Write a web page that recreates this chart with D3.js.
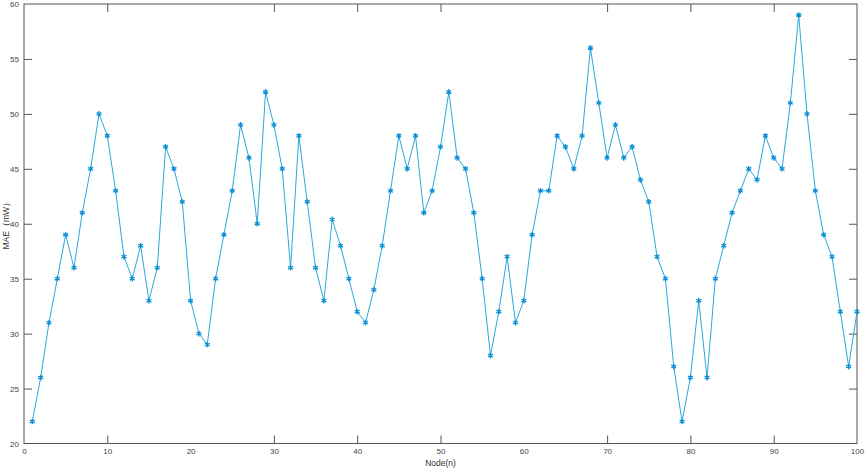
<!DOCTYPE html>
<html>
<head>
<meta charset="utf-8">
<script src="https://cdn.jsdelivr.net/npm/d3@7.9.0/dist/d3.min.js"></script>
<style>
  body { margin: 0; background: #fff; }
  svg { display: block; font-family: "Liberation Sans", Arial, sans-serif; }
</style>
</head>
<body>
<svg id="chart" width="865" height="469"></svg>
<script>
const nodes = d3.range(1, 101);
const mae = [
  22, 26, 31, 35, 39, 36, 41, 45, 50, 48,
  43, 37, 35, 38, 33, 36, 47, 45, 42, 33,
  30, 29, 35, 39, 43, 49, 46, 40, 52, 49,
  45, 36, 48, 42, 36, 33, 40.4, 38, 35, 32,
  31, 34, 38, 43, 48, 45, 48, 41, 43, 47,
  52, 46, 45, 41, 35, 28, 32, 37, 31, 33,
  39, 43, 43, 48, 47, 45, 48, 56, 51, 46,
  49, 46, 47, 44, 42, 37, 35, 27, 22, 26,
  33, 26, 35, 38, 41, 43, 45, 44, 48, 46,
  45, 51, 59, 50, 43, 39, 37, 32, 27, 32
];
const xTicks = [0, 10, 20, 30, 40, 50, 60, 70, 80, 90, 100];
const yTicks = [20, 25, 30, 35, 40, 45, 50, 55, 60];

const data = nodes.map((n, i) => ({ x: n, y: mae[i] }));

const margin = { left: 24, right: 8, top: 4, bottom: 25.5 };
const width = 865, height = 469;
const svg = d3.select("#chart");

const x = d3.scaleLinear().domain([0, 100]).range([margin.left, width - margin.right]);
const y = d3.scaleLinear().domain([20, 60]).range([height - margin.bottom, margin.top]);

const tickLen = 8;
const axisColor = "#555";

// box
svg.append("rect")
  .attr("x", x(0)).attr("y", y(60))
  .attr("width", x(100) - x(0)).attr("height", y(20) - y(60))
  .attr("fill", "none").attr("stroke", axisColor).attr("stroke-width", 1);

// axes with inward ticks
const styleAxis = g => {
  g.select(".domain").remove();
  g.selectAll(".tick line").attr("stroke", axisColor);
  g.selectAll(".tick text").attr("fill", "#444").attr("font-size", 8);
};

svg.append("g")
  .attr("transform", `translate(0,${y(20)})`)
  .call(d3.axisBottom(x).tickValues(xTicks).tickSizeInner(-tickLen).tickSizeOuter(0).tickPadding(5))
  .call(styleAxis);

svg.append("g")
  .attr("transform", `translate(0,${y(60)})`)
  .call(d3.axisTop(x).tickValues(xTicks).tickSizeInner(-tickLen).tickSizeOuter(0).tickFormat(""))
  .call(styleAxis);

svg.append("g")
  .attr("transform", `translate(${x(0)},0)`)
  .call(d3.axisLeft(y).tickValues(yTicks).tickSizeInner(-tickLen).tickSizeOuter(0).tickPadding(5))
  .call(styleAxis);

svg.append("g")
  .attr("transform", `translate(${x(100)},0)`)
  .call(d3.axisRight(y).tickValues(yTicks).tickSizeInner(-tickLen).tickSizeOuter(0).tickFormat(""))
  .call(styleAxis);

// remove ticks that sit on the box corners
svg.selectAll(".tick").filter(d => d === 0 || d === 100 || d === 20 || d === 60)
  .select("line").remove();

// line
const line = d3.line().x(d => x(d.x)).y(d => y(d.y));
svg.append("path")
  .datum(data)
  .attr("d", line)
  .attr("fill", "none")
  .attr("stroke", "#2aa8e0")
  .attr("stroke-width", 1);

// asterisk markers
const sym = d3.symbol().type(d3.symbolAsterisk).size(22);
svg.append("g").selectAll("path")
  .data(data)
  .join("path")
  .attr("transform", d => `translate(${x(d.x)},${y(d.y)})`)
  .attr("d", sym)
  .attr("fill", "none")
  .attr("stroke", "#0a8fd6")
  .attr("stroke-width", 1.3);

// labels
svg.append("text")
  .attr("x", (x(0) + x(100)) / 2).attr("y", 466)
  .attr("text-anchor", "middle")
  .attr("font-size", 8.5).attr("fill", "#333")
  .text("Node(n)");

svg.append("text")
  .attr("transform", `translate(9,${(y(20) + y(60)) / 2}) rotate(-90)`)
  .attr("text-anchor", "middle")
  .attr("font-size", 8.5).attr("fill", "#333")
  .text("MAE（mW）");
</script>
</body>
</html>
